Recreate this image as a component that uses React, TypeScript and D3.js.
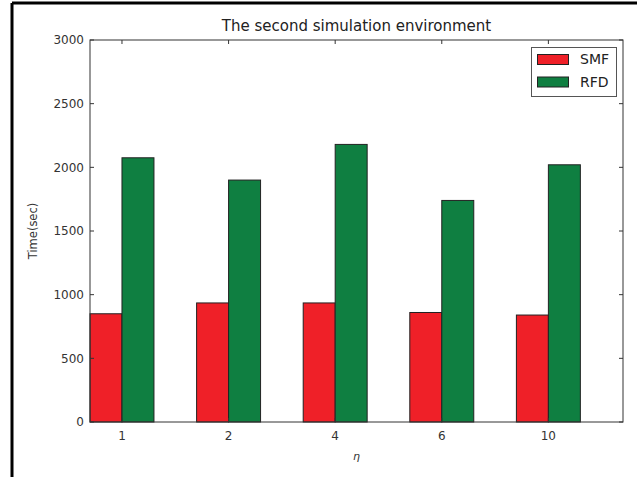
import React from "react";
import * as d3 from "d3";

const categories = ["1", "2", "4", "6", "10"];
const smfValues = [850, 935, 935, 860, 840];
const rfdValues = [2075, 1900, 2180, 1740, 2020];
const yTicks = [0, 500, 1000, 1500, 2000, 2500, 3000];
const seriesNames = ["SMF", "RFD"];
const seriesColors = ["#ef2028", "#0f7f41"];

const W = 637;
const H = 477;
const M = { left: 90, right: 623, top: 40, bottom: 422 };
const FONT = "DejaVu Sans, sans-serif";

export default function App() {
  const x = d3.scaleLinear().domain([0, categories.length]).range([M.left, M.right]);
  const y = d3.scaleLinear().domain([0, 3000]).range([M.bottom, M.top]);
  const bw = 0.3;
  const series = [smfValues, rfdValues];
  const midX = (M.left + M.right) / 2;
  const tickLen = 4;
  return (
    <svg width={W} height={H} style={{ position: "absolute", left: 0, top: 0, background: "#fff" }}>
      <rect x={0} y={0} width={W} height={H} fill="#fff" />
      {/* outer cropped border */}
      <line x1={12} y1={3} x2={W} y2={3} stroke="#000" strokeWidth={3} />
      <line x1={12} y1={3} x2={12} y2={H} stroke="#000" strokeWidth={3} />
      {/* bars */}
      {series.map((vals, s) =>
        vals.map((v, i) => (
          <rect
            key={`${s}-${i}`}
            x={x(i + s * bw)}
            y={y(v)}
            width={x(bw) - x(0)}
            height={y(0) - y(v)}
            fill={seriesColors[s]}
            stroke="#222"
            strokeWidth={1}
          />
        ))
      )}
      {/* axes box */}
      <rect x={M.left} y={M.top} width={M.right - M.left} height={M.bottom - M.top} fill="none" stroke="#333" strokeWidth={1} />
      {/* y ticks */}
      {yTicks.map((t) => (
        <g key={t}>
          <line x1={M.left} x2={M.left + tickLen} y1={y(t)} y2={y(t)} stroke="#333" />
          <line x1={M.right} x2={M.right - tickLen} y1={y(t)} y2={y(t)} stroke="#333" />
          <text x={M.left - 6} y={y(t)} dy="0.35em" textAnchor="end" fontFamily={FONT} fontSize={12} fill="#333">
            {t}
          </text>
        </g>
      ))}
      {/* x ticks */}
      {categories.map((c, i) => {
        const cx = x(i + bw);
        return (
          <g key={c}>
            <line x1={cx} x2={cx} y1={M.bottom} y2={M.bottom - tickLen} stroke="#333" />
            <line x1={cx} x2={cx} y1={M.top} y2={M.top + tickLen} stroke="#333" />
            <text x={cx} y={M.bottom + 18} textAnchor="middle" fontFamily={FONT} fontSize={12} fill="#333">
              {c}
            </text>
          </g>
        );
      })}
      {/* title */}
      <text x={midX} y={31} textAnchor="middle" fontFamily={FONT} fontSize={15} fill="#222">
        The second simulation environment
      </text>
      {/* axis labels */}
      <text x={midX} y={460} textAnchor="middle" fontFamily={FONT} fontSize={11} fontStyle="italic" fill="#333">
        η
      </text>
      <text transform={`translate(37, ${(M.top + M.bottom) / 2}) rotate(-90)`} textAnchor="middle" fontFamily={FONT} fontSize={11.5} fill="#333">
        Time(sec)
      </text>
      {/* legend */}
      <rect x={531.5} y={47.5} width={85} height={49} fill="#fff" stroke="#555" strokeWidth={1} />
      {seriesNames.map((n, s) => (
        <g key={n}>
          <rect x={537.5} y={54.5 + s * 22.5} width={31} height={10} fill={seriesColors[s]} stroke="#222" />
          <text x={580} y={59.5 + s * 22.5} dy="0.35em" fontFamily={FONT} fontSize={14} fill="#222">
            {n}
          </text>
        </g>
      ))}
    </svg>
  );
}
